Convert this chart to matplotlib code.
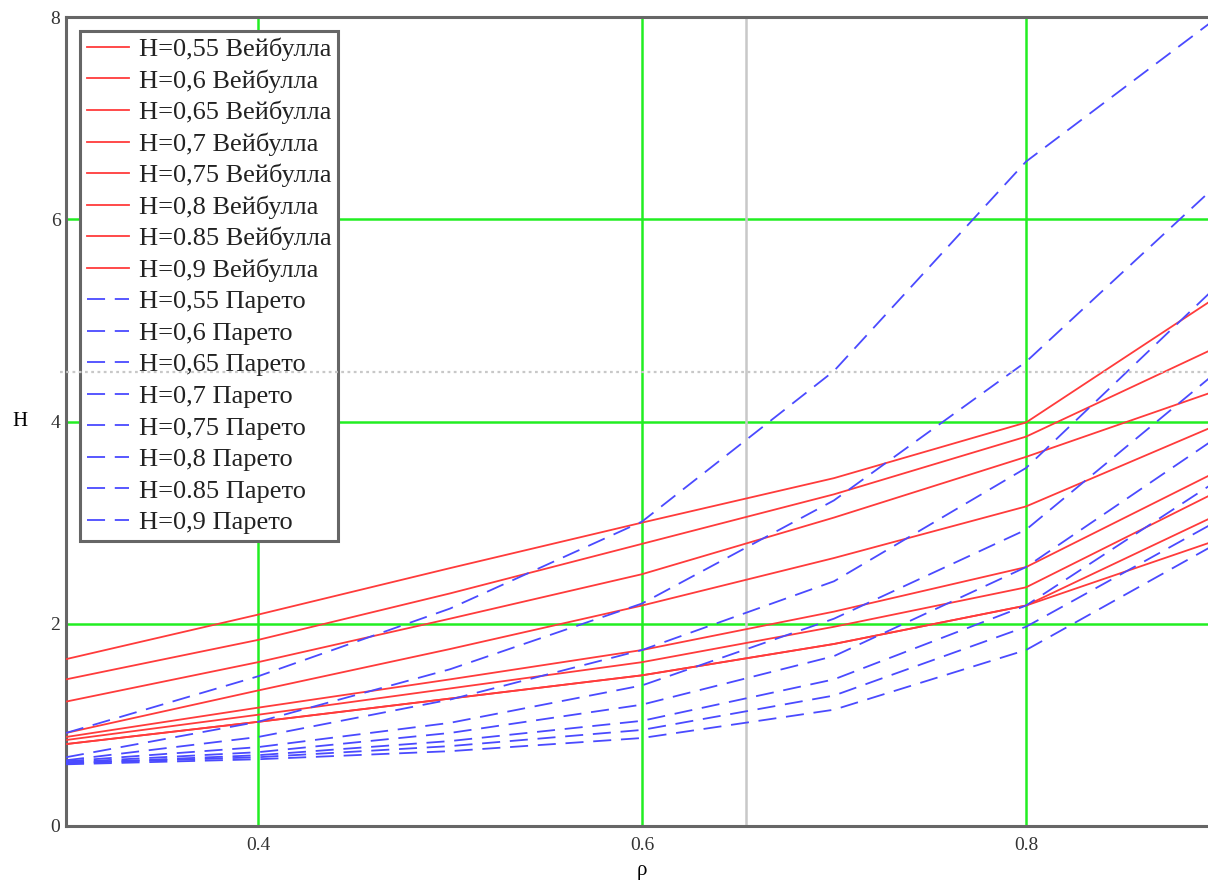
import matplotlib
matplotlib.use("Agg")
from matplotlib import pyplot as plt

plt.rcParams['font.family'] = ['Liberation Serif', 'DejaVu Serif']
plt.rcParams['lines.scale_dashes'] = False

rho = [0.3, 0.4, 0.5, 0.6, 0.7, 0.8, 0.9]

# Weibull curves (solid red)
w_labels = ["H=0,55 Вейбулла", "H=0,6 Вейбулла", "H=0,65 Вейбулла", "H=0,7 Вейбулла",
            "H=0,75 Вейбулла", "H=0,8 Вейбулла", "H=0.85 Вейбулла", "H=0,9 Вейбулла"]
w_055 = [0.81, 1.03, 1.26, 1.49, 1.80, 2.18, 2.83]
w_060 = [0.81, 1.03, 1.26, 1.49, 1.80, 2.18, 3.08]
w_065 = [0.85, 1.10, 1.36, 1.62, 1.97, 2.36, 3.31]
w_070 = [0.88, 1.17, 1.45, 1.74, 2.12, 2.56, 3.51]
w_075 = [0.92, 1.34, 1.75, 2.18, 2.65, 3.16, 3.97]
w_080 = [1.23, 1.62, 2.05, 2.49, 3.05, 3.65, 4.31]
w_085 = [1.45, 1.84, 2.30, 2.79, 3.28, 3.85, 4.74]
w_090 = [1.65, 2.09, 2.55, 3.00, 3.44, 3.99, 5.24]

# Pareto curves (dashed blue)
p_labels = ["H=0,55 Парето", "H=0,6 Парето", "H=0,65 Парето", "H=0,7 Парето",
            "H=0,75 Парето", "H=0,8 Парето", "H=0.85 Парето", "H=0,9 Парето"]
p_055 = [0.61, 0.66, 0.74, 0.87, 1.15, 1.74, 2.80]
p_060 = [0.62, 0.68, 0.79, 0.95, 1.29, 1.97, 3.02]
p_065 = [0.62, 0.70, 0.84, 1.04, 1.45, 2.18, 3.42]
p_070 = [0.63, 0.73, 0.92, 1.20, 1.68, 2.56, 3.85]
p_075 = [0.64, 0.78, 1.02, 1.39, 2.05, 2.93, 4.50]
p_080 = [0.65, 0.88, 1.25, 1.74, 2.42, 3.54, 5.35]
p_085 = [0.68, 1.03, 1.55, 2.20, 3.22, 4.59, 6.35]
p_090 = [0.92, 1.48, 2.15, 3.01, 4.50, 6.57, 8.00]

weibull = [w_055, w_060, w_065, w_070, w_075, w_080, w_085, w_090]
pareto = [p_055, p_060, p_065, p_070, p_075, p_080, p_085, p_090]

W, Hh = 1208, 883
fig = plt.figure(figsize=(W / 100, Hh / 100), dpi=100)
ax = fig.add_axes([66 / W, (Hh - 826) / Hh, 1152 / W, 809 / Hh])

for ys, lab in zip(weibull, w_labels):
    ax.plot(rho, ys, color='#ff3b3b', lw=1.3, label=lab, zorder=3)
for ys, lab in zip(pareto, p_labels):
    ax.plot(rho, ys, color='#4a4aff', lw=1.3, dashes=(13, 7), label=lab, zorder=3)

ax.set_xlim(0.3, 0.9)
ax.set_ylim(0, 8)
ax.set_xticks([0.4, 0.6, 0.8])
ax.set_xticklabels(["0.4", "0.6", "0.8"])
ax.set_yticks([0, 2, 4, 6, 8])
ax.set_yticklabels(["0", "2", "4", "6", "8"])
ax.tick_params(length=0, labelsize=14, colors='#333333', pad=4)
ax.tick_params(axis='x', pad=8)

for v in [0.4, 0.6, 0.8]:
    ax.axvline(v, color='#22ee22', lw=1.8, zorder=1)
for v in [2, 4, 6]:
    ax.axhline(v, color='#22ee22', lw=1.8, zorder=1)

# trace markers
ax.axvline(0.654, color='#c8c8c8', lw=1.8, zorder=1)
ax.axhline(4.49, xmin=-0.005, color='#c8c8c8', lw=1.6, ls=(0, (2, 2.5)), zorder=7, clip_on=False)

for s in ax.spines.values():
    s.set_color('#666666')
    s.set_linewidth(2.2)

ax.set_xlabel("ρ", fontsize=15, labelpad=5)
ax.set_ylabel("H", fontsize=15, rotation=0, labelpad=22, va='center')

leg = ax.legend(loc='upper left', bbox_to_anchor=(80 / W, 1 - 31 / Hh), bbox_transform=fig.transFigure,
                borderaxespad=0, fancybox=False, framealpha=1, edgecolor='#666666',
                fontsize=19, handlelength=1.6, handletextpad=0.38, labelspacing=0.305,
                borderpad=0.25)
leg.get_frame().set_linewidth(2.2)
for t in leg.get_texts():
    t.set_color('#222222')

fig.savefig("out.png", dpi=100)
